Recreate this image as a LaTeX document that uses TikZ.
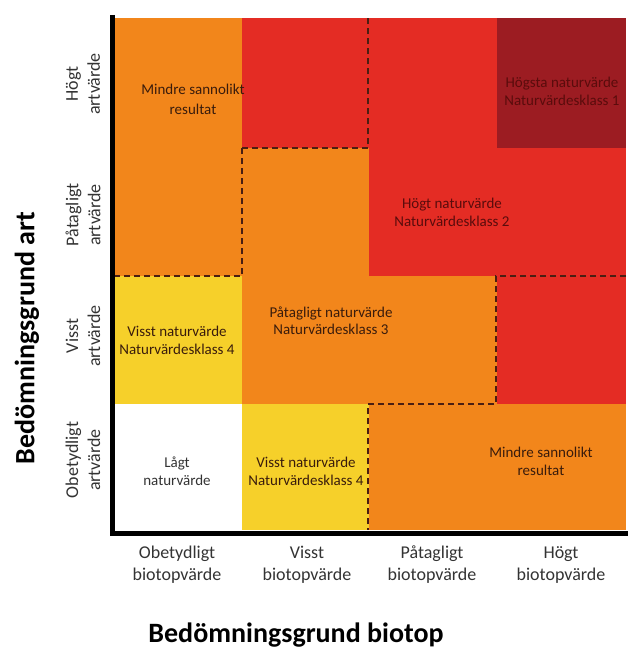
\documentclass[tikz,border=0pt]{standalone}
\usepackage{fontspec}
\setmainfont{Carlito}
\definecolor{corange}{HTML}{F2861B}
\definecolor{cred}{HTML}{E42C24}
\definecolor{cdred}{HTML}{9C1C22}
\definecolor{cyellow}{HTML}{F6D02A}
\definecolor{ctext}{HTML}{3A1C0C}
\definecolor{ctextred}{HTML}{5A0C0C}
\definecolor{cdash}{HTML}{4A1E12}
\definecolor{caxis}{HTML}{333333}
\begin{document}
\begin{tikzpicture}[x=1pt,y=-1pt,
  celltext/.style={align=center,text=ctext,font=\fontsize{15}{18}\selectfont},
  axlabel/.style={align=center,text=caxis,font=\fontsize{18}{22}\selectfont},
  axtitle/.style={text=black,font=\fontsize{28}{30}\selectfont\bfseries},
  dashline/.style={draw=cdash,line width=2.2pt,dash pattern=on 6pt off 4pt}]
\useasboundingbox (0,0) rectangle (639,661);
% cells
\fill[corange] (114,18) rectangle (242,148);
\fill[cred] (242,18) rectangle (497,148);
\fill[cdred] (497,18) rectangle (626,148);
\fill[corange] (114,148) rectangle (369,276);
\fill[cred] (369,148) rectangle (626,276);
\fill[cyellow] (114,276) rectangle (242,404);
\fill[corange] (242,276) rectangle (497,404);
\fill[cred] (497,276) rectangle (626,404);
\fill[white] (114,404) rectangle (242,530);
\fill[cyellow] (242,404) rectangle (369,530);
\fill[corange] (369,404) rectangle (626,530);
% dashed borders
\draw[dashline] (242,148) -- (368,148) -- (368,18);
\draw[dashline] (114,276) -- (242,276) -- (242,148);
\draw[dashline] (626,276) -- (496,276) -- (496,404) -- (368,404) -- (368,530);
% axes
\draw[line width=5pt,black] (112,15) -- (112,533) -- (628,533);
% cell texts
\node[celltext,font=\fontsize{15}{20}\selectfont] (t11) at (193,99) {Mindre sannolikt\\resultat};
\node[celltext,text=ctextred] (t14) at (562,91) {Högsta naturvärde\\Naturvärdesklass 1};
\node[celltext,text=ctextred] (t23) at (452,212) {Högt naturvärde\\Naturvärdesklass 2};
\node[celltext,font=\fontsize{15}{17}\selectfont] (t32) at (331,321) {Påtagligt naturvärde\\Naturvärdesklass 3};
\node[celltext] (t31) at (177,340) {Visst naturvärde\\Naturvärdesklass 4};
\node[celltext,text=caxis] (t41) at (177,471) {Lågt\\naturvärde};
\node[celltext] (t42) at (306,471) {Visst naturvärde\\Naturvärdesklass 4};
\node[celltext] (t43) at (541,461) {Mindre sannolikt\\resultat};
% left axis labels
\node[axlabel,rotate=90] (l1) at (83,84) {Högt\\artvärde};
\node[axlabel,rotate=90] (l2) at (83,215) {Påtagligt\\artvärde};
\node[axlabel,rotate=90] (l3) at (83,336) {Visst\\artvärde};
\node[axlabel,rotate=90] (l4) at (83,460) {Obetydligt\\artvärde};
\node[axtitle,rotate=90] (ya) at (27,338) {Bedömningsgrund art};
% bottom axis labels
\node[axlabel] (b1) at (177,565) {Obetydligt\\biotopvärde};
\node[axlabel] (b2) at (307,565) {Visst\\biotopvärde};
\node[axlabel] (b3) at (432,565) {Påtagligt\\biotopvärde};
\node[axlabel] (b4) at (561,565) {Högt\\biotopvärde};
\node[axtitle] (xa) at (296,635) {Bedömningsgrund biotop};
\end{tikzpicture}
\end{document}
